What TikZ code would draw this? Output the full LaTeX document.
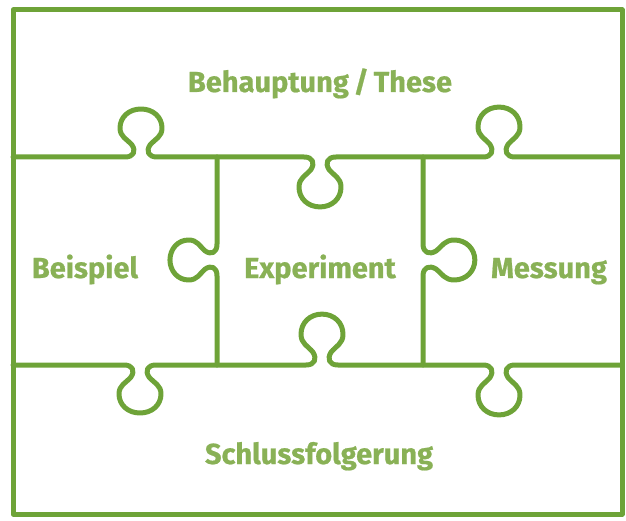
\documentclass[tikz,border=0pt]{standalone}
\usepackage{fontspec}
\newfontfamily\lblfont{Fira Sans}[FakeBold=0.7]
\definecolor{linegreen}{RGB}{110,163,56}
\definecolor{textgreen}{RGB}{137,177,86}
% horizontal knob: centre x, baseline y, direction (+1 down, -1 up), depth scale
\newcommand\hk[4]{%
 -- ({#1-16},{#2}) .. controls ({#1-7},{#2}) and ({#1-5},{#2+(#3)*(#4)*6}) .. ({#1-9},{#2+(#3)*(#4)*12})
 .. controls ({#1-14},{#2+(#3)*(#4)*18}) and ({#1-21},{#2+(#3)*(#4)*20}) .. ({#1-21},{#2+(#3)*(#4)*29})
 .. controls ({#1-21},{#2+(#3)*(#4)*40}) and ({#1-12},{#2+(#3)*(#4)*48}) .. ({#1},{#2+(#3)*(#4)*48})
 .. controls ({#1+12},{#2+(#3)*(#4)*48}) and ({#1+21},{#2+(#3)*(#4)*40}) .. ({#1+21},{#2+(#3)*(#4)*29})
 .. controls ({#1+21},{#2+(#3)*(#4)*20}) and ({#1+14},{#2+(#3)*(#4)*18}) .. ({#1+9},{#2+(#3)*(#4)*12})
 .. controls ({#1+5},{#2+(#3)*(#4)*6}) and ({#1+7},{#2}) .. ({#1+16},{#2})}
% vertical knob: line x, centre y, direction (+1 right, -1 left), depth scale
\newcommand\vk[4]{%
 -- ({#1},{#2-16}) .. controls ({#1},{#2-7}) and ({#1+(#3)*(#4)*6},{#2-5}) .. ({#1+(#3)*(#4)*12},{#2-9})
 .. controls ({#1+(#3)*(#4)*18},{#2-14}) and ({#1+(#3)*(#4)*20},{#2-20}) .. ({#1+(#3)*(#4)*29},{#2-20})
 .. controls ({#1+(#3)*(#4)*40},{#2-20}) and ({#1+(#3)*(#4)*48},{#2-11}) .. ({#1+(#3)*(#4)*48},{#2})
 .. controls ({#1+(#3)*(#4)*48},{#2+11}) and ({#1+(#3)*(#4)*40},{#2+20}) .. ({#1+(#3)*(#4)*29},{#2+20})
 .. controls ({#1+(#3)*(#4)*20},{#2+20}) and ({#1+(#3)*(#4)*18},{#2+14}) .. ({#1+(#3)*(#4)*12},{#2+9})
 .. controls ({#1+(#3)*(#4)*6},{#2+5}) and ({#1},{#2+7}) .. ({#1},{#2+16})}
\begin{document}
\begin{tikzpicture}[x=1pt,y=-1pt,
  puzzle/.style={draw=linegreen,line width=5pt,line cap=round,line join=round},
  lbl/.style={text=textgreen,font=\lblfont\bfseries\fontsize{29}{32}\selectfont,anchor=base,inner sep=0pt}]
\useasboundingbox (0,0) rectangle (626,521);
% frame
\draw[puzzle] (13,10) rectangle (622,514);
% horizontal seams
\draw[puzzle] (13,157) \hk{141}{157}{-1}{1} \hk{320}{157}{1}{1.04} \hk{499}{157}{-1}{1.04} -- (622,157);
\draw[puzzle] (13,365) \hk{140}{365}{1}{1} \hk{322}{365}{-1}{1.06} \hk{499}{365}{1}{1.04} -- (622,365);
% vertical seams
\draw[puzzle] (217,157) \vk{217}{260}{-1}{0.98} -- (217,365);
\draw[puzzle] (423,157) \vk{423}{260}{1}{1.08} -- (423,365);
% labels
\node[lbl] (these) at (320,92) {Behauptung\,/\,These};
\node[lbl] (beispiel) at (85,278) {Beispiel};
\node[lbl] (experiment) at (320,278) {Experiment};
\node[lbl] (messung) at (549,278) {Messung};
\node[lbl] (schluss) at (319,464) {Schlussfolgerung};
\end{tikzpicture}
\end{document}
